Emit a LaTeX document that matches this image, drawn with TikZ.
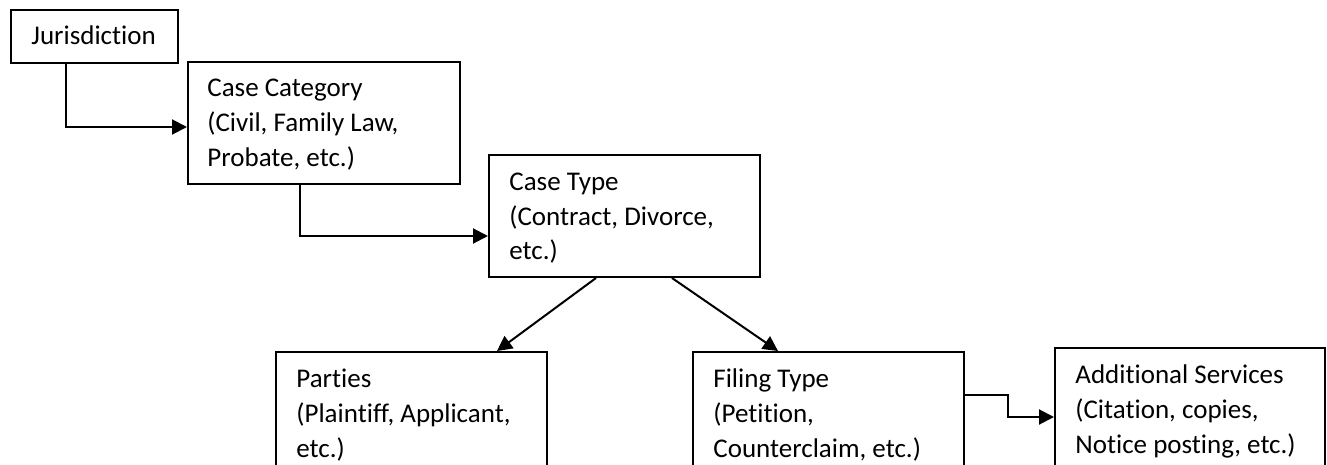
\documentclass[tikz,border=0pt]{standalone}
\usepackage{fontspec}
\setmainfont{Carlito}[RawFeature={-liga;-clig;-dlig;-calt}]
\usetikzlibrary{arrows.meta}
\frenchspacing
\newcommand{\boxlines}[1]{\parbox[t]{240pt}{\raggedright\fontsize{13.5}{17.5}\selectfont #1}}
\begin{document}
\begin{tikzpicture}[x=0.5pt,y=-0.5pt,
  box/.style={draw=black,line width=1pt,rectangle,anchor=north west,inner sep=0pt},
  txt/.style={anchor=base west,inner sep=0pt},
  arr/.style={draw=black,line width=1pt,-{Triangle[length=7.5pt,width=7.5pt]}}]
\useasboundingbox (0,0) rectangle (1327,465);
\clip (0,0) rectangle (1327,465);
% boxes
\node[box,minimum width=83.5pt,minimum height=26.5pt] (J) at (10,9) {};
\node[box,minimum width=136pt,minimum height=61pt] (CC) at (187,61) {};
\node[box,minimum width=135.5pt,minimum height=61pt] (CT) at (488,154) {};
\node[box,minimum width=135.5pt,minimum height=75pt] (PA) at (275,351) {};
\node[box,minimum width=135.5pt,minimum height=75pt] (FT) at (692,351) {};
\node[box,minimum width=135pt,minimum height=75pt] (AS) at (1054,347) {};
% texts
\node[txt] (Jt) at ([xshift=10.5pt,yshift=-18pt]J.north west) {\boxlines{Jurisdiction}};
\node[txt] (CCt) at ([xshift=10pt,yshift=-18pt]CC.north west) {\boxlines{Case Category\\(Civil, Family Law,\\Probate, etc.)}};
\node[txt] (CTt) at ([xshift=10.5pt,yshift=-18pt]CT.north west) {\boxlines{Case Type\\(Contract, Divorce,\\etc.)}};
\node[txt] (PAt) at ([xshift=10.5pt,yshift=-18pt]PA.north west) {\boxlines{Parties\\(Plaintiff, Applicant,\\etc.)}};
\node[txt] (FTt) at ([xshift=10.5pt,yshift=-18pt]FT.north west) {\boxlines{Filing Type\\(Petition,\\Counterclaim, etc.)}};
\node[txt] (ASt) at ([xshift=10.5pt,yshift=-18pt]AS.north west) {\boxlines{Additional Services\\(Citation, copies,\\Notice posting, etc.)}};
% connectors
\draw[arr] ([xshift=28pt]J.south west) |- ([yshift=-2pt]CC.west);
\draw[arr] ([xshift=56.5pt]CC.south west) |- ([yshift=-10pt]CT.west);
\draw[arr] ([xshift=54pt]CT.south west) -- ([xshift=111pt]PA.north west);
\draw[arr] ([xshift=92pt]CT.south west) -- ([xshift=43pt]FT.north west);
\draw[arr] ([yshift=-22pt]FT.north east) -- ++(21.5pt,0) |- ([yshift=-35pt]AS.north west);
\end{tikzpicture}
\end{document}
